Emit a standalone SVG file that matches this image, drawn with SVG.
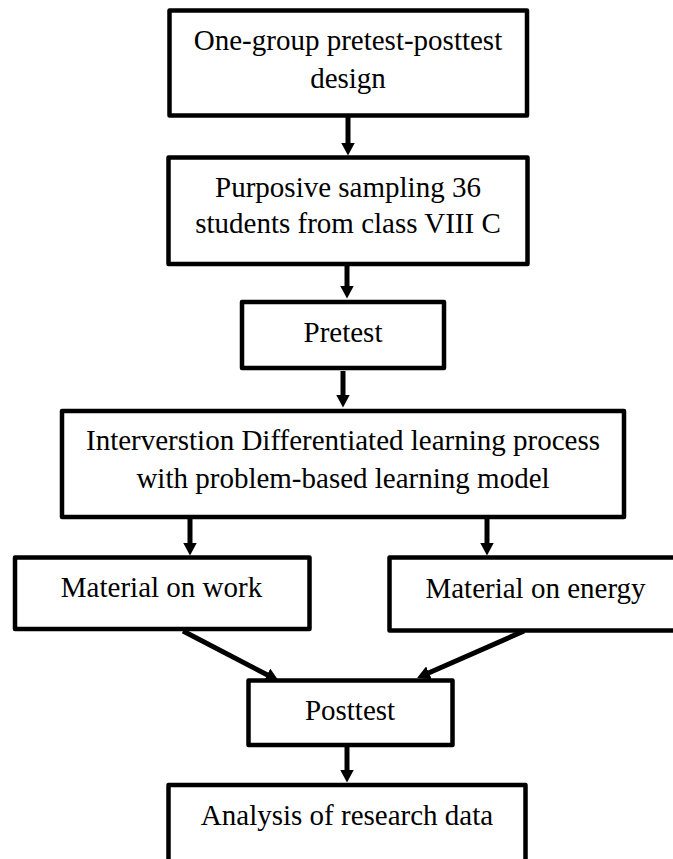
<svg xmlns="http://www.w3.org/2000/svg" width="673" height="859" viewBox="0 0 673 859">
<style>
.box{fill:#fff;stroke:#000;stroke-width:4.5;stroke-linejoin:round}
.t{font-family:"Liberation Serif","Times New Roman",serif;font-size:29px;fill:#000;text-anchor:middle}
.c{stroke:#000;stroke-width:5;fill:none}
</style>
<defs>
<marker id="ah" markerUnits="userSpaceOnUse" viewBox="0 0 13 14" markerWidth="13" markerHeight="14" refX="0.5" refY="7" orient="auto">
<path d="M0,0 L13,7 L0,14 z" fill="#000"/>
</marker>
</defs>
<rect width="673" height="859" fill="#fff"/>
<g id="connectors">
<line class="c" x1="348" y1="117" x2="348" y2="143" marker-end="url(#ah)"/>
<line class="c" x1="347" y1="266" x2="347" y2="286" marker-end="url(#ah)"/>
<line class="c" x1="343" y1="371" x2="343" y2="395" marker-end="url(#ah)"/>
<line class="c" x1="190" y1="519" x2="190" y2="543" marker-end="url(#ah)"/>
<line class="c" x1="487" y1="519" x2="487" y2="543" marker-end="url(#ah)"/>
<line class="c" x1="183" y1="631" x2="267.5" y2="675" marker-end="url(#ah)"/>
<line class="c" x1="524" y1="631" x2="428.5" y2="673" marker-end="url(#ah)"/>
<line class="c" x1="347" y1="747" x2="347" y2="770" marker-end="url(#ah)"/>
</g>
<g id="n1">
<rect class="box" x="169.5" y="10.5" width="357.5" height="105"/>
<text class="t" x="348" y="50">One-group pretest-posttest</text>
<text class="t" x="348" y="88">design</text>
</g>
<g id="n2">
<rect class="box" x="168.5" y="157.5" width="359" height="106.5"/>
<text class="t" x="348" y="197">Purposive sampling 36</text>
<text class="t" x="348" y="233">students from class VIII C</text>
</g>
<g id="n3">
<rect class="box" x="242" y="302" width="202" height="66"/>
<text class="t" x="343" y="342">Pretest</text>
</g>
<g id="n4">
<rect class="box" x="62" y="411" width="562" height="106"/>
<text class="t" x="343" y="450">Interverstion Differentiated learning process</text>
<text class="t" x="343" y="488">with problem-based learning model</text>
</g>
<g id="n5">
<rect class="box" x="15" y="557.5" width="294.5" height="71.5"/>
<text class="t" x="161.5" y="597">Material on work</text>
</g>
<g id="n6">
<rect class="box" x="389.5" y="557.5" width="300" height="73"/>
<text class="t" x="535.5" y="598">Material on energy</text>
</g>
<g id="n7">
<rect class="box" x="248.5" y="680.5" width="204" height="64.5"/>
<text class="t" x="350" y="720">Posttest</text>
</g>
<g id="n8">
<rect class="box" x="168.5" y="785" width="357" height="100"/>
<text class="t" x="347" y="825">Analysis of research data</text>
</g>
</svg>
